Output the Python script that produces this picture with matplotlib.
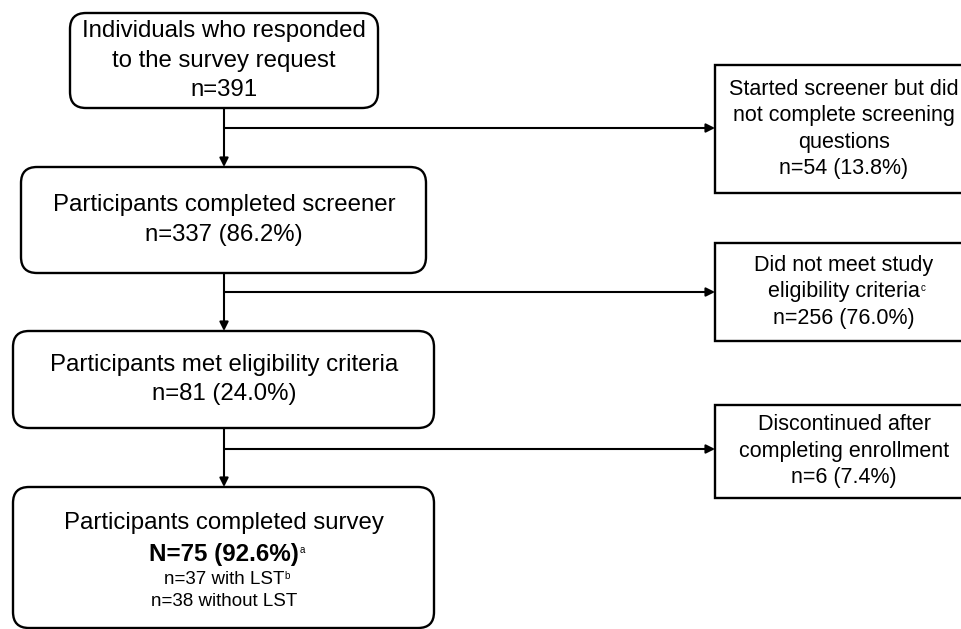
import matplotlib.pyplot as plt
from matplotlib.patches import FancyBboxPatch, Rectangle

plt.rcParams['font.family'] = ['Liberation Sans', 'DejaVu Sans']

# flow data
main_labels = ["Individuals who responded\nto the survey request",
               "Participants completed screener",
               "Participants met eligibility criteria",
               "Participants completed survey"]
main_counts = ["n=391", "n=337 (86.2%)", "n=81 (24.0%)", "N=75 (92.6%)"]
sub_groups = ["n=37 with LST", "n=38 without LST"]
excl_labels = ["Started screener but did\nnot complete screening\nquestions",
               "Did not meet study\neligibility criteria",
               "Discontinued after\ncompleting enrollment"]
excl_counts = ["n=54 (13.8%)", "n=256 (76.0%)", "n=6 (7.4%)"]
footnotes = {"eligibility criteria": "c", "N=75 (92.6%)": "a", "n=37 with LST": "b"}

# layout in pixels (x0, y0, x1, y1)
main_boxes = [(70, 13, 378, 108), (21, 167, 426, 273), (13, 331, 434, 428), (13, 487, 434, 628)]
excl_boxes = [(715, 65, 973, 193), (715, 243, 973, 341), (715, 405, 973, 498)]
branch_y = [128, 292, 449]
trunk_x = 224

W, H = 961, 629
fig = plt.figure(figsize=(W / 100, H / 100), dpi=100)
ax = fig.add_axes([0, 0, 1, 1])
ax.set_xlim(0, W)
ax.set_ylim(H, 0)
ax.axis('off')


def mark(t, line):
    # small superscript footnote letter after a line of text
    if line in footnotes:
        ax.annotate(footnotes[line], xy=(1, 0.95), xycoords=t, xytext=(0.5, 0),
                    textcoords='offset points', ha='left', va='top', fontsize=7, zorder=3)


def put_lines(lines, cx, cy, step, size):
    n = len(lines)
    for i, line in enumerate(lines):
        y = cy + (i - (n - 1) / 2) * step
        t = ax.text(cx, y, line, ha='center', va='center', fontsize=size, zorder=3)
        mark(t, line)


# main boxes
for i, (x0, y0, x1, y1) in enumerate(main_boxes):
    ax.add_patch(FancyBboxPatch((x0, y0), x1 - x0, y1 - y0,
                                boxstyle="round,pad=0,rounding_size=16",
                                fc='white', ec='black', lw=1.7, zorder=2))
    if i < 3:
        lines = main_labels[i].split("\n") + [main_counts[i]]
        put_lines(lines, trunk_x, (y0 + y1) / 2, 29.5, 17.3)

# bottom box with mixed sizes
bl = [main_labels[3], main_counts[3]] + sub_groups
ys = [523, 555, 579, 601]
fs = [17.3, 17.4, 13.5, 13.5]
fw = ['normal', 'bold', 'normal', 'normal']
for line, y, s, w in zip(bl, ys, fs, fw):
    t = ax.text(trunk_x, y, line, ha='center', va='center', fontsize=s, fontweight=w, zorder=3)
    mark(t, line)

# exclusion boxes
for i, (x0, y0, x1, y1) in enumerate(excl_boxes):
    ax.add_patch(Rectangle((x0, y0), x1 - x0, y1 - y0, fc='white', ec='black', lw=1.7, zorder=2))
    lines = excl_labels[i].split("\n") + [excl_counts[i]]
    put_lines(lines, 844, (y0 + y1) / 2, 26.5, 15.5)

arrow = dict(arrowstyle='-|>', color='black', lw=1.5, mutation_scale=13, shrinkA=0, shrinkB=0)

# vertical trunk arrows
for i in range(3):
    ax.annotate('', xy=(trunk_x, main_boxes[i + 1][1]), xytext=(trunk_x, main_boxes[i][3]),
                arrowprops=arrow)

# branch arrows
for i, y in enumerate(branch_y):
    ax.annotate('', xy=(excl_boxes[i][0], y), xytext=(trunk_x, y), arrowprops=arrow)

fig.savefig('out.png', dpi=100)
